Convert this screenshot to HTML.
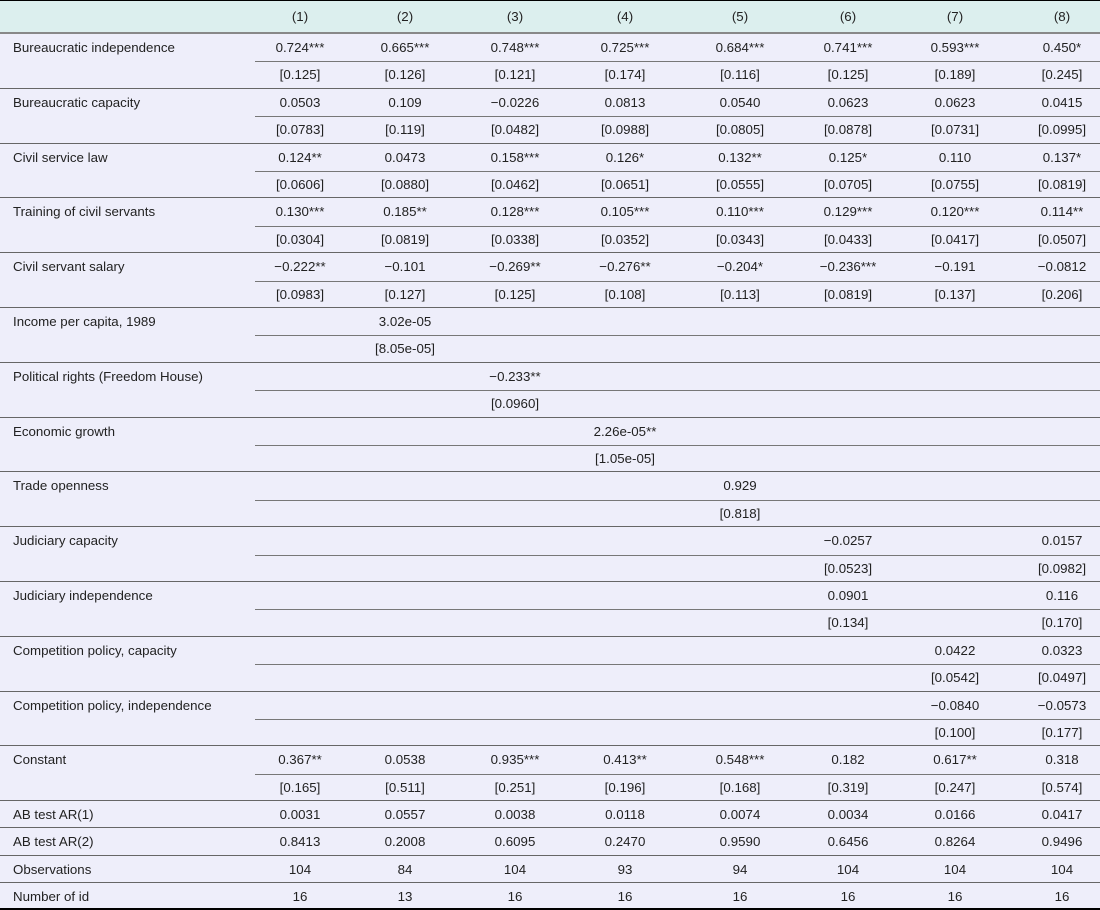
<!DOCTYPE html>
<html><head><meta charset="utf-8">
<style>
html,body{margin:0;padding:0;}
body{width:1100px;height:910px;background:#eeeefa;font-family:"Liberation Sans",sans-serif;font-size:13.3px;color:#222;position:relative;overflow:hidden;}
.hdr{position:absolute;left:0;top:0;width:1100px;height:33px;background:#dcefee;border-top:1px solid #000;box-sizing:border-box;}
.t{position:absolute;white-space:nowrap;line-height:16px;}
.c{transform:translateX(-50%);}
.ln{position:absolute;height:1px;background:#666;}
</style></head><body>
<div class="hdr"></div>
<div id="tbl"></div>
<script>
const colX=[300,405,515,625,740,848,955,1062];
const heads=["(1)","(2)","(3)","(4)","(5)","(6)","(7)","(8)"];
const labels=["Bureaucratic independence","Bureaucratic capacity","Civil service law","Training of civil servants","Civil servant salary","Income per capita, 1989","Political rights (Freedom House)","Economic growth","Trade openness","Judiciary capacity","Judiciary independence","Competition policy, capacity","Competition policy, independence","Constant"];
const coefs=[
["0.724***","0.665***","0.748***","0.725***","0.684***","0.741***","0.593***","0.450*"],
["0.0503","0.109","\u22120.0226","0.0813","0.0540","0.0623","0.0623","0.0415"],
["0.124**","0.0473","0.158***","0.126*","0.132**","0.125*","0.110","0.137*"],
["0.130***","0.185**","0.128***","0.105***","0.110***","0.129***","0.120***","0.114**"],
["\u22120.222**","\u22120.101","\u22120.269**","\u22120.276**","\u22120.204*","\u22120.236***","\u22120.191","\u22120.0812"],
["","3.02e-05","","","","","",""],
["","","\u22120.233**","","","","",""],
["","","","2.26e-05**","","","",""],
["","","","","0.929","","",""],
["","","","","","\u22120.0257","","0.0157"],
["","","","","","0.0901","","0.116"],
["","","","","","","0.0422","0.0323"],
["","","","","","","\u22120.0840","\u22120.0573"],
["0.367**","0.0538","0.935***","0.413**","0.548***","0.182","0.617**","0.318"]];
const ses=[
["[0.125]","[0.126]","[0.121]","[0.174]","[0.116]","[0.125]","[0.189]","[0.245]"],
["[0.0783]","[0.119]","[0.0482]","[0.0988]","[0.0805]","[0.0878]","[0.0731]","[0.0995]"],
["[0.0606]","[0.0880]","[0.0462]","[0.0651]","[0.0555]","[0.0705]","[0.0755]","[0.0819]"],
["[0.0304]","[0.0819]","[0.0338]","[0.0352]","[0.0343]","[0.0433]","[0.0417]","[0.0507]"],
["[0.0983]","[0.127]","[0.125]","[0.108]","[0.113]","[0.0819]","[0.137]","[0.206]"],
["","[8.05e-05]","","","","","",""],
["","","[0.0960]","","","","",""],
["","","","[1.05e-05]","","","",""],
["","","","","[0.818]","","",""],
["","","","","","[0.0523]","","[0.0982]"],
["","","","","","[0.134]","","[0.170]"],
["","","","","","","[0.0542]","[0.0497]"],
["","","","","","","[0.100]","[0.177]"],
["[0.165]","[0.511]","[0.251]","[0.196]","[0.168]","[0.319]","[0.247]","[0.574]"]];
const statLabels=["AB test AR(1)","AB test AR(2)","Observations","Number of id"];
const stats=[
["0.0031","0.0557","0.0038","0.0118","0.0074","0.0034","0.0166","0.0417"],
["0.8413","0.2008","0.6095","0.2470","0.9590","0.6456","0.8264","0.9496"],
["104","84","104","93","94","104","104","104"],
["16","13","16","16","16","16","16","16"]];
const tbl=document.getElementById('tbl');
function txt(s,x,y,center,name){
 const d=document.createElement('div');
 d.className='t'+(center?' c':'');
 d.style.left=x+'px';d.style.top=y+'px';d.textContent=s;
 
 
 tbl.appendChild(d);
}
function line(x,y,w,col,h,name){
 const d=document.createElement('div');
 d.className='ln';d.style.left=x+'px';d.style.top=y+'px';d.style.width=w+'px';
 d.style.background=col;d.style.height=(h||1)+'px';
 
 
 tbl.appendChild(d);
}
heads.forEach((h,i)=>txt(h,colX[i],9,true,'column-header'));
line(0,32,1100,'#888',2,'header-rule');
const top0=34, pairH=54.8, sub=27.4;
labels.forEach((l,r)=>{
 const y=top0+r*pairH;
 txt(l,13,y+6,false,'row-label');
 coefs[r].forEach((v,i)=>{if(v)txt(v,colX[i],y+6,true,'coefficient');});
 ses[r].forEach((v,i)=>{if(v)txt(v,colX[i],y+sub+6,true,'standard-error');});
 line(255,Math.round(y+sub),845,'#777',1,'sub-rule');
 line(0,Math.round(y+pairH)-1,1100,'#666',1,'row-rule');
});
const st0=top0+labels.length*pairH, sh=27.2;
statLabels.forEach((l,r)=>{
 const y=st0+r*sh;
 txt(l,13,y+6,false,'stat-label');
 stats[r].forEach((v,i)=>txt(v,colX[i],y+6,true,'stat-value'));
 if(r<3)line(0,Math.round(y+sh)-1,1100,'#666',1,'row-rule');
});
line(0,908,1100,'#000',2,'bottom-rule');
</script>
</body></html>
